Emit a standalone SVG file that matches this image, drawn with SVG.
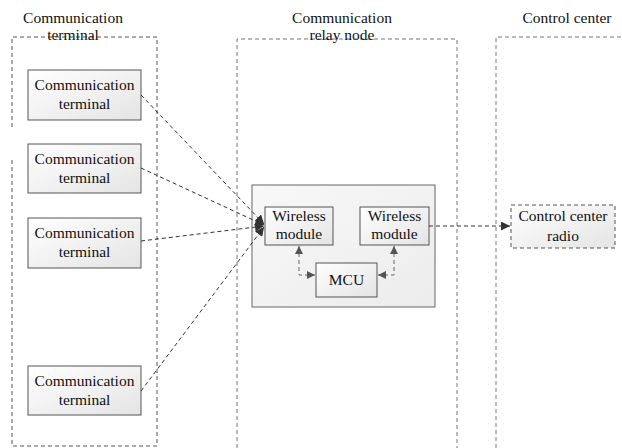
<svg xmlns="http://www.w3.org/2000/svg" width="622" height="448" viewBox="0 0 622 448">
<defs>
<linearGradient id="g" x1="0" y1="0" x2="1" y2="1">
<stop offset="0" stop-color="#ffffff"/>
<stop offset="1" stop-color="#e4e4e4"/>
</linearGradient>
<linearGradient id="g2" x1="0" y1="0" x2="1" y2="1">
<stop offset="0" stop-color="#f8f8f8"/>
<stop offset="1" stop-color="#ececec"/>
</linearGradient>
<marker id="ah" viewBox="0 0 10 10" refX="10" refY="5" markerWidth="9" markerHeight="9" markerUnits="userSpaceOnUse" orient="auto-start-reverse">
<path d="M0,0 L10,5 L0,10 z" fill="#333"/>
</marker>
<marker id="ah2" viewBox="0 0 10 10" refX="10" refY="5" markerWidth="8" markerHeight="8" markerUnits="userSpaceOnUse" orient="auto-start-reverse">
<path d="M0,0 L10,5 L0,10 z" fill="#555"/>
</marker>
</defs>
<style>
text{font-family:"Liberation Serif",Tinos,"Times New Roman","DejaVu Serif",serif;font-size:15.5px;fill:#111;text-anchor:middle}
.cont{fill:none;stroke:#555;stroke-width:1;stroke-dasharray:4,3}
.cont2{fill:none;stroke:#777;stroke-width:1;stroke-dasharray:4,3}
.box{fill:url(#g);stroke:#555;stroke-width:1}
.conn{fill:none;stroke:#333;stroke-width:1;stroke-dasharray:4,3}
.conn2{fill:none;stroke:#666;stroke-width:1;stroke-dasharray:4,3}
</style>
<g id="terminal-area">
<path class="cont" d="M12,127 V37 H157 V446 H12 V160"/>
<text x="73" y="23">Communication</text>
<text x="73" y="40">terminal</text>
</g>
<g id="relay-area">
<path class="cont2" d="M237,448 V39 H457 V448"/>
<text x="342" y="23">Communication</text>
<text x="342" y="40">relay node</text>
</g>
<g id="control-area">
<path class="cont2" d="M496,448 V37 H622"/>
<text x="567" y="23">Control center</text>
</g>
<g id="relay-box">
<rect x="252" y="185" width="183" height="122" fill="url(#g2)" stroke="#666"/>
</g>
<g id="term1">
<rect class="box" x="28" y="70" width="113" height="50"/>
<text x="84.5" y="90">Communication</text>
<text x="84.5" y="109">terminal</text>
</g>
<g id="term2">
<rect class="box" x="28" y="144" width="113" height="49"/>
<text x="84.5" y="164">Communication</text>
<text x="84.5" y="183">terminal</text>
</g>
<g id="term3">
<rect class="box" x="28" y="218" width="113" height="50"/>
<text x="84.5" y="238">Communication</text>
<text x="84.5" y="257">terminal</text>
</g>
<g id="term4">
<rect class="box" x="28" y="366" width="113" height="49"/>
<text x="84.5" y="386">Communication</text>
<text x="84.5" y="405">terminal</text>
</g>
<g id="wm1">
<rect class="box" x="265" y="207" width="68" height="38"/>
<text x="299" y="221">Wireless</text>
<text x="299" y="239">module</text>
</g>
<g id="wm2">
<rect class="box" x="360" y="207" width="69" height="38"/>
<text x="394.5" y="221">Wireless</text>
<text x="394.5" y="239">module</text>
</g>
<g id="mcu">
<rect class="box" x="316" y="263" width="61" height="34"/>
<text x="346.5" y="285">MCU</text>
</g>
<g id="radio">
<rect x="511" y="205" width="104" height="43" fill="url(#g)" stroke="#555" stroke-dasharray="4,3"/>
<text x="563" y="221">Control center</text>
<text x="563" y="241">radio</text>
</g>
<g id="connectors">
<line class="conn" x1="141" y1="95" x2="264" y2="224" marker-end="url(#ah)"/>
<line class="conn" x1="141" y1="168" x2="264" y2="225" marker-end="url(#ah)"/>
<line class="conn" x1="141" y1="241" x2="264" y2="226" marker-end="url(#ah)"/>
<line class="conn" x1="141" y1="391" x2="264" y2="227" marker-end="url(#ah)"/>
<line class="conn" x1="429" y1="226" x2="510" y2="226" marker-end="url(#ah)"/>
<path class="conn2" d="M299,246 V275 H315" marker-start="url(#ah2)" marker-end="url(#ah2)"/>
<path class="conn2" d="M394,246 V275 H378" marker-start="url(#ah2)" marker-end="url(#ah2)"/>
</g>
</svg>
